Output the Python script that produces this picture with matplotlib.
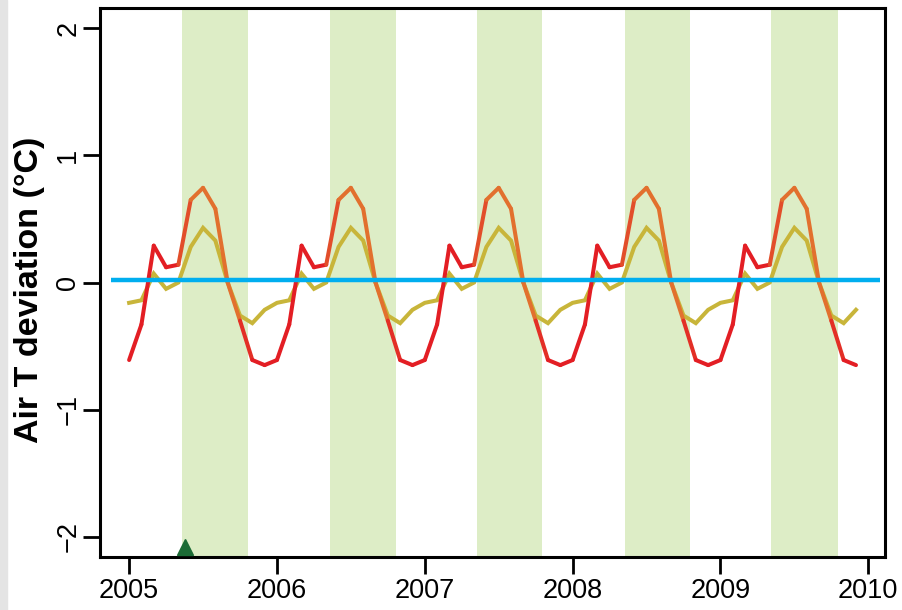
import numpy as np
import matplotlib
matplotlib.use("Agg")
import matplotlib.pyplot as plt
from matplotlib.collections import LineCollection
from matplotlib.colors import to_rgb

plt.rcParams['font.family'] = ['Liberation Sans', 'DejaVu Sans']

# ---- data ----
years = [2005, 2006, 2007, 2008, 2009]
months = list(range(12))
red_2005 = [-0.61, -0.33, 0.29, 0.12, 0.14, 0.65, 0.745, 0.58, 0.0, -0.30, -0.61, -0.65]
red_2006 = [-0.61, -0.33, 0.29, 0.12, 0.14, 0.65, 0.745, 0.58, 0.0, -0.30, -0.61, -0.65]
red_2007 = [-0.61, -0.33, 0.29, 0.12, 0.14, 0.65, 0.745, 0.58, 0.0, -0.30, -0.61, -0.65]
red_2008 = [-0.61, -0.33, 0.29, 0.12, 0.14, 0.65, 0.745, 0.58, 0.0, -0.30, -0.61, -0.65]
red_2009 = [-0.61, -0.33, 0.29, 0.12, 0.14, 0.65, 0.745, 0.58, 0.0, -0.30, -0.61, -0.65]
yel_2005 = [-0.16, -0.14, 0.07, -0.05, 0.0, 0.28, 0.43, 0.33, 0.0, -0.26, -0.32, -0.215]
yel_2006 = [-0.16, -0.14, 0.07, -0.05, 0.0, 0.28, 0.43, 0.33, 0.0, -0.26, -0.32, -0.215]
yel_2007 = [-0.16, -0.14, 0.07, -0.05, 0.0, 0.28, 0.43, 0.33, 0.0, -0.26, -0.32, -0.215]
yel_2008 = [-0.16, -0.14, 0.07, -0.05, 0.0, 0.28, 0.43, 0.33, 0.0, -0.26, -0.32, -0.215]
yel_2009 = [-0.16, -0.14, 0.07, -0.05, 0.0, 0.28, 0.43, 0.33, 0.0, -0.26, -0.32, -0.215]
band_start = [2005.355, 2006.36, 2007.355, 2008.352, 2009.34]
band_end = [2005.805, 2006.808, 2007.79, 2008.793, 2009.797]
ref_line_x = [2004.88, 2010.08]
ref_line_y = [0.02, 0.02]
marker_x = [2005.377]
marker_y = [-2.083]
xticks = [2005, 2006, 2007, 2008, 2009, 2010]
yticks = [-2, -1, 0, 1, 2]

x = np.array([y + m / 12.0 for y in years for m in months])
red = np.array(red_2005 + red_2006 + red_2007 + red_2008 + red_2009)
yel = np.array(yel_2005 + yel_2006 + yel_2007 + yel_2008 + yel_2009)

fig = plt.figure(figsize=(9.03, 6.10), dpi=100)
# light gray strip on left
fig.patches.append(plt.Rectangle((0, 0), 7 / 903, 1, transform=fig.transFigure,
                                 color='#e4e4e4', zorder=-10))
ax = fig.add_axes([100 / 903, 1 - 557 / 610, 785 / 903, 549 / 610])

for s, e in zip(band_start, band_end):
    ax.axvspan(s, e, color='#ddedc6', lw=0, zorder=0)

ax.plot(x, yel, color='#c8b53a', lw=2.9, zorder=2, solid_joinstyle='miter')

# red line coloured by season (orange inside growing season)
c_red = np.array(to_rgb('#e31e24'))
c_or = np.array(to_rgb('#e2702e'))
pts = np.column_stack([x, red]).reshape(-1, 1, 2)
segs = np.concatenate([pts[:-1], pts[1:]], axis=1)
mids = (x[:-1] + x[1:]) / 2
frac = mids - np.floor(mids)
w = np.clip(np.minimum((frac - 0.34) / 0.06, (0.80 - frac) / 0.04), 0, 1)
cols = [tuple(c_red * (1 - wi) + c_or * wi) for wi in w]
lc = LineCollection(segs, colors=cols, linewidths=2.9, zorder=3, capstyle='round')
ax.add_collection(lc)

ax.plot(ref_line_x, ref_line_y, color='#00aeef', lw=3.2, zorder=4, solid_capstyle='butt')
ax.plot(marker_x, marker_y, marker='^', color='#1b6b35', ms=12, ls='none', zorder=5)

ax.set_xlim(2004.803, 2010.113)
ax.set_ylim(-2.16, 2.16)
ax.set_xticks(xticks)
ax.set_yticks(yticks)
ax.set_xticklabels([str(t) for t in xticks])
ax.set_yticklabels(['\u22122', '\u22121', '0', '1', '2'], rotation=90, va='center')
ax.tick_params(axis='both', length=12, width=2.0, labelsize=19.5)
ax.tick_params(axis='x', pad=3)
ax.tick_params(axis='y', pad=1.5)
for sp in ax.spines.values():
    sp.set_linewidth(2.2)
ax.set_ylabel('Air T deviation (\u00b0C)', fontsize=24.5, fontweight='bold', va='center')
ax.yaxis.set_label_coords(-(100 - 30) / 785, 0.486)

fig.savefig('out.png', dpi=100)
